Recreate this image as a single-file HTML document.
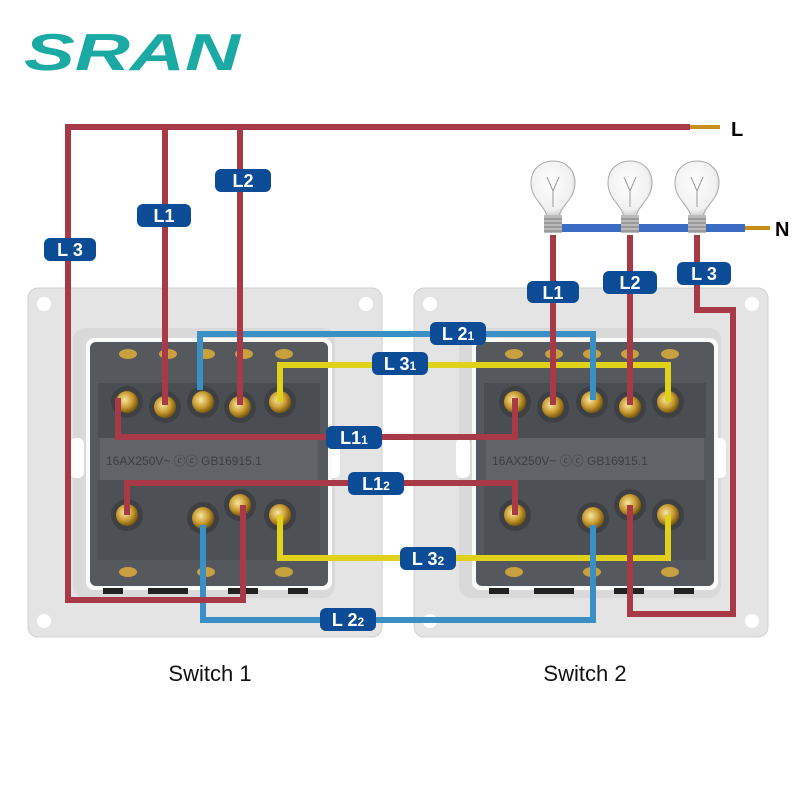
<!DOCTYPE html>
<html><head><meta charset="utf-8"><style>
body{margin:0;background:#fff}
svg{display:block}
text{font-family:"Liberation Sans",sans-serif}
</style></head><body>
<svg width="800" height="800" viewBox="0 0 800 800" xmlns="http://www.w3.org/2000/svg">
<defs>
<radialGradient id="gold" cx="0.4" cy="0.4" r="0.6"><stop offset="0" stop-color="#f8e6a0"/><stop offset="0.6" stop-color="#c89a30"/><stop offset="1" stop-color="#7a5a10"/></radialGradient>
<radialGradient id="glass" cx="0.45" cy="0.4" r="0.6"><stop offset="0" stop-color="#ffffff"/><stop offset="0.8" stop-color="#f0f0f0"/><stop offset="1" stop-color="#c8c8c8"/></radialGradient>
<g id="plate">
<rect x="0" y="0" width="354" height="349" rx="10" fill="#e4e4e4" stroke="#d0d0d0"/>
<circle cx="16" cy="16" r="7" fill="#fff"/><circle cx="338" cy="16" r="7" fill="#fff"/>
<circle cx="16" cy="333" r="7" fill="#fff"/><circle cx="338" cy="333" r="7" fill="#fff"/>
<rect x="45" y="40" width="262" height="270" rx="12" fill="#d9d9d9"/>
<rect x="42" y="150" width="14" height="40" rx="6" fill="#fff"/><rect x="298" y="150" width="14" height="40" rx="6" fill="#fff"/>
<rect x="58" y="50" width="246" height="252" rx="8" fill="#fafafa"/>
<rect x="62" y="54" width="238" height="244" rx="6" fill="#55585c"/>
<rect x="70" y="95" width="222" height="55" fill="#4a4d51"/>
<rect x="72" y="150" width="218" height="42" fill="#606367"/>
<text x="78" y="177" font-size="12" fill="#3c3e42">16AX250V~  ⓒⓒ  GB16915.1</text>
<rect x="70" y="192" width="222" height="80" fill="#4d5054"/>
<ellipse cx="100" cy="66" rx="9" ry="5" fill="#c8a040"/><ellipse cx="140" cy="66" rx="9" ry="5" fill="#c8a040"/><ellipse cx="178" cy="66" rx="9" ry="5" fill="#c8a040"/><ellipse cx="216" cy="66" rx="9" ry="5" fill="#c8a040"/><ellipse cx="256" cy="66" rx="9" ry="5" fill="#c8a040"/>
<ellipse cx="100" cy="284" rx="9" ry="5" fill="#c8a040"/><ellipse cx="178" cy="284" rx="9" ry="5" fill="#c8a040"/><ellipse cx="256" cy="284" rx="9" ry="5" fill="#c8a040"/>
<rect x="75" y="300" width="20" height="6" fill="#222"/><rect x="120" y="300" width="40" height="6" fill="#222"/><rect x="200" y="300" width="30" height="6" fill="#222"/><rect x="260" y="300" width="20" height="6" fill="#222"/>
</g>
<g id="term"><circle r="16" fill="#3e4044"/><circle r="11" fill="url(#gold)"/></g>
<g id="bulb">
<path d="M-6,22 C-8,10 -22,4 -22,-12 C-22,-26 -12,-34 0,-34 C12,-34 22,-26 22,-12 C22,4 8,10 6,22 Z" fill="url(#glass)" stroke="#aaa"/>
<path d="M-6,-18 L0,-4 L6,-18 M0,-4 L0,12" stroke="#999" fill="none"/>
<rect x="-9" y="20" width="18" height="18" fill="#bbb"/>
<path d="M-9,24 H9 M-9,28 H9 M-9,32 H9 M-9,36 H9" stroke="#777"/>
</g>
</defs>

<text x="24" y="70" font-size="52" font-weight="bold" font-style="italic" fill="#1aa9a3" textLength="216" lengthAdjust="spacingAndGlyphs">SRAN</text>

<use href="#plate" x="28" y="288"/>
<use href="#plate" x="414" y="288"/>

<g>
<use href="#term" x="127" y="402"/><use href="#term" x="165" y="407"/><use href="#term" x="203" y="402"/><use href="#term" x="240" y="407"/><use href="#term" x="280" y="402"/>
<use href="#term" x="127" y="515"/><use href="#term" x="203" y="518"/><use href="#term" x="240" y="505"/><use href="#term" x="280" y="515"/>
<use href="#term" x="515" y="402"/><use href="#term" x="553" y="407"/><use href="#term" x="592" y="402"/><use href="#term" x="630" y="407"/><use href="#term" x="668" y="402"/>
<use href="#term" x="515" y="515"/><use href="#term" x="593" y="518"/><use href="#term" x="630" y="505"/><use href="#term" x="668" y="515"/>
</g>

<g fill="none" stroke-width="6" stroke-linejoin="miter">
<path d="M280,402 V365 H668 V402" stroke="#e0d21a"/>
<path d="M280,515 V558 H668 V515" stroke="#e0d21a"/>
<path d="M200,390 V334 H593 V400" stroke="#3a8fc4"/>
<path d="M203,525 V620 H593 V525" stroke="#3a8fc4"/>
<path d="M548,228 H745" stroke="#3a6cc4" stroke-width="8"/>
<path d="M690,127 H68 V600 H243 V505" stroke="#a83a48"/>
<path d="M165,127 V405" stroke="#a83a48"/>
<path d="M240,127 V405" stroke="#a83a48"/>
<path d="M118,398 V437 H515 V398" stroke="#a83a48"/>
<path d="M127,515 V483 H515 V515" stroke="#a83a48"/>
<path d="M553,235 V405" stroke="#a83a48"/>
<path d="M630,235 V405" stroke="#a83a48"/>
<path d="M697,235 V310 H733 V614 H630 V505" stroke="#a83a48"/>
</g>
<path d="M690,127 H720" stroke="#c8901a" stroke-width="4"/>
<path d="M745,228 H770" stroke="#c8901a" stroke-width="4"/>
<text x="731" y="136" font-size="20" font-weight="bold">L</text>
<text x="775" y="236" font-size="20" font-weight="bold">N</text>

<use href="#bulb" x="553" y="195"/>
<use href="#bulb" x="630" y="195"/>
<use href="#bulb" x="697" y="195"/>

<g fill="#0c4c96">
<rect x="44" y="238" width="52" height="23" rx="6"/>
<rect x="137" y="204" width="54" height="23" rx="6"/>
<rect x="215" y="169" width="56" height="23" rx="6"/>
<rect x="430" y="322" width="56" height="23" rx="6"/>
<rect x="372" y="352" width="56" height="23" rx="6"/>
<rect x="326" y="426" width="56" height="23" rx="6"/>
<rect x="348" y="472" width="56" height="23" rx="6"/>
<rect x="400" y="547" width="56" height="23" rx="6"/>
<rect x="320" y="608" width="56" height="23" rx="6"/>
<rect x="527" y="281" width="52" height="22" rx="6"/>
<rect x="603" y="271" width="54" height="23" rx="6"/>
<rect x="677" y="262" width="54" height="23" rx="6"/>
</g>
<g fill="#fff" font-size="18" font-weight="bold" text-anchor="middle">
<text x="70" y="256">L 3</text>
<text x="164" y="222">L1</text>
<text x="243" y="187">L2</text>
<text x="458" y="340">L 2<tspan font-size="12">1</tspan></text>
<text x="400" y="370">L 3<tspan font-size="12">1</tspan></text>
<text x="354" y="444">L1<tspan font-size="12">1</tspan></text>
<text x="376" y="490">L1<tspan font-size="12">2</tspan></text>
<text x="428" y="565">L 3<tspan font-size="12">2</tspan></text>
<text x="348" y="626">L 2<tspan font-size="12">2</tspan></text>
<text x="553" y="299">L1</text>
<text x="630" y="289">L2</text>
<text x="704" y="280">L 3</text>
</g>

<text x="210" y="681" font-size="22" text-anchor="middle" fill="#111">Switch 1</text>
<text x="585" y="681" font-size="22" text-anchor="middle" fill="#111">Switch 2</text>
</svg>
</body></html>
